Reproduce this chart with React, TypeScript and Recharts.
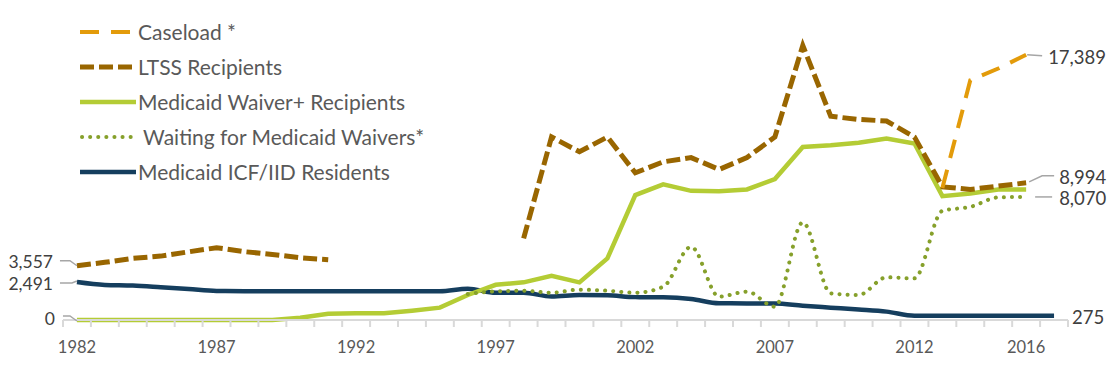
import { Line, LineChart, XAxis, YAxis } from "recharts";

const YEARS = [
  1982, 1983, 1984, 1985, 1986, 1987, 1988, 1989, 1990, 1991, 1992, 1993,
  1994, 1995, 1996, 1997, 1998, 1999, 2000, 2001, 2002, 2003, 2004, 2005,
  2006, 2007, 2008, 2009, 2010, 2011, 2012, 2013, 2014, 2015, 2016, 2017,
];
const LABEL_YEARS = [1982, 1987, 1992, 1997, 2002, 2007, 2012, 2016];

// values per year, null = no data that year
const CASELOAD = [
  null, null, null, null, null, null, null, null, null, null, null, null,
  null, null, null, null, null, null, null, null, null, null, null, null,
  null, null, null, null, null, null, null, 8650, 15720, 16490, 17389, null,
];
const LTSS = [
  3557, 3780, 4040, 4190, 4470, 4740, 4480, 4300, 4080, 3950, null, null,
  null, null, null, null, 5350, 12000, 11030, 12000, 9650, 10370, 10650, 9870,
  10650, 12000, 18000, 13360, 13150, 13050, 12000, 8730, 8560, 8780, 8994, null,
];
const WAIVER = [
  0, 0, 0, 0, 0, 0, 0, 0, 150, 410, 440, 440,
  610, 810, 1640, 2310, 2470, 2900, 2470, 4040, 8190, 8890, 8470, 8450,
  8560, 9240, 11350, 11460, 11620, 11900, 11570, 8120, 8300, 8560, 8560, null,
];
const WAITING = [
  null, null, null, null, null, null, null, null, null, null, null, null,
  null, null, 1700, 1880, 1920, 1790, 1990, 1920, 1790, 2180, 4800, 1530,
  1860, 870, 6400, 1750, 1640, 2800, 2730, 7160, 7420, 8040, 8070, null,
];
const ICF = [
  2491, 2300, 2260, 2150, 2030, 1900, 1890, 1890, 1890, 1890, 1890, 1890,
  1890, 1890, 2050, 1790, 1790, 1540, 1640, 1620, 1500, 1490, 1380, 1100,
  1090, 1080, 930, 810, 690, 550, 280, 275, 275, 275, 275, 275,
];

const data = YEARS.map((year, i) => ({
  year,
  caseload: CASELOAD[i],
  ltss: LTSS[i],
  waiver: WAIVER[i],
  waiting: WAITING[i],
  icf: ICF[i],
}));

const FONT = "Lato, 'Open Sans', sans-serif";
const AXIS = "#d9d9d9";
const LEADER = "#a6a6a6";
const TEXT = "#404040";

const SERIES = [
  { key: "caseload", name: "Caseload *", color: "#E39B0A", width: 4, dash: "19 12" },
  { key: "ltss", name: "LTSS Recipients", color: "#996600", width: 5, dash: "14 5" },
  { key: "waiver", name: "Medicaid Waiver+ Recipients", color: "#B4CC35", width: 4.5, dash: undefined },
  { key: "waiting", name: "\u00a0Waiting for Medicaid Waivers*", color: "#86A02B", width: 4, dash: "0.1 8" },
  { key: "icf", name: "Medicaid ICF/IID Residents", color: "#153E5E", width: 4.5, dash: undefined },
];
const S = Object.fromEntries(SERIES.map((s) => [s.key, s]));

// value callouts: which point, where the text sits and the little leader line
interface Mark {
  index: number;
  side: "left" | "right";
  dx: number;
  dy: number;
  leader: number[][];
}

const MARKS: Record<string, Mark[]> = {
  caseload: [{ index: 34, side: "right", dx: 22, dy: 2, leader: [[1, 0], [16, 1]] }],
  ltss: [
    { index: 0, side: "left", dx: -24, dy: -4, leader: [[-17, -5], [-7, -5], [0, 0]] },
    { index: 34, side: "right", dx: 33, dy: -6, leader: [[3, -1], [16, -7], [28, -7]] },
  ],
  waiver: [{ index: 0, side: "left", dx: -22, dy: -2, leader: [[-14, -4], [-7, -4], [0, 1]] }],
  waiting: [{ index: 34, side: "right", dx: 33, dy: 1, leader: [[9, 0], [26, 0]] }],
  icf: [
    { index: 0, side: "left", dx: -24, dy: 1, leader: [[-17, 1], [-5, 1], [0, -1]] },
    { index: 35, side: "right", dx: 18, dy: 1, leader: [] },
  ],
};

const callout = (key: string) => (p: any) => {
  const m = MARKS[key].find((mk) => mk.index === p.index);
  if (!m || p.value == null || p.cx == null) return <g key={`${key}-${p.index}`} />;
  const { cx, cy } = p;
  return (
    <g key={`${key}-${p.index}`}>
      {m.leader.length > 0 && (
        <polyline
          points={m.leader.map(([a, b]) => `${cx + a},${cy + b}`).join(" ")}
          fill="none"
          stroke={LEADER}
          strokeWidth={1.5}
        />
      )}
      <text
        x={cx + m.dx}
        y={cy + m.dy}
        textAnchor={m.side === "left" ? "end" : "start"}
        dominantBaseline="central"
        fontFamily={FONT}
        fontSize={m.side === "left" ? 17.5 : 18.5}
        fill={TEXT}
      >
        {Number(p.value).toLocaleString("en-US")}
      </text>
    </g>
  );
};

// boundary ticks get a tick mark, whole years get a label
function YearTick({ x, y, payload }: any) {
  const v = payload.value as number;
  if (!Number.isInteger(v)) {
    return <line x1={x} x2={x} y1={y} y2={y + 7} stroke={AXIS} strokeWidth={2} />;
  }
  return (
    <text x={x} y={y + 33} textAnchor="middle" fontFamily={FONT} fontSize={16.5} fill="#595959">
      {v}
    </text>
  );
}

const X_TICKS = [...YEARS.map((y) => y - 0.5), YEARS[YEARS.length - 1] + 0.5, ...LABEL_YEARS].sort(
  (a, b) => a - b
);

function SeriesLine({ k, curve }: { k: string; curve: "linear" | "monotone" }) {
  const s = S[k];
  return (
    <Line
      key={k}
      dataKey={k}
      type={curve}
      stroke={s.color}
      strokeWidth={s.width}
      strokeDasharray={s.dash}
      strokeLinecap={k === "waiting" ? "round" : "butt"}
      dot={callout(k)}
      activeDot={false}
      isAnimationActive={false}
    />
  );
}

export default function App() {
  return (
    <div style={{ position: "relative", width: 1112, height: 365, background: "#fff" }}>
      <style>{"body{margin:0}"}</style>
      <LineChart width={1112} height={365} data={data} margin={{ top: 15, right: 44, bottom: 15, left: 63 }}>
        <XAxis
          dataKey="year"
          type="number"
          domain={[1981.5, 2017.5]}
          ticks={X_TICKS}
          interval={0}
          height={30}
          tickLine={false}
          tickSize={0}
          tickMargin={0}
          axisLine={{ stroke: AXIS, strokeWidth: 2 }}
          tick={<YearTick />}
        />
        <YAxis hide width={0} domain={[0, 20000]} />
        {SeriesLine({ k: "icf", curve: "monotone" })}
        {SeriesLine({ k: "waiver", curve: "linear" })}
        {SeriesLine({ k: "waiting", curve: "monotone" })}
        {SeriesLine({ k: "ltss", curve: "linear" })}
        {SeriesLine({ k: "caseload", curve: "linear" })}
      </LineChart>
      <div
        style={{
          position: "absolute",
          left: 80,
          top: 14,
          fontFamily: FONT,
          fontSize: 21,
          color: "#595959",
        }}
      >
        {SERIES.map((s) => (
          <div key={s.key} style={{ display: "flex", alignItems: "center", height: 35 }}>
            <svg width={56} height={10} style={{ display: "block" }}>
              <line
                x1={s.key === "waiting" ? 2 : 0}
                x2={56}
                y1={5}
                y2={5}
                stroke={s.color}
                strokeWidth={s.width}
                strokeDasharray={s.dash}
                strokeLinecap={s.key === "waiting" ? "round" : "butt"}
              />
            </svg>
            <span style={{ marginLeft: 2, whiteSpace: "pre" }}>{s.name}</span>
          </div>
        ))}
      </div>
    </div>
  );
}
